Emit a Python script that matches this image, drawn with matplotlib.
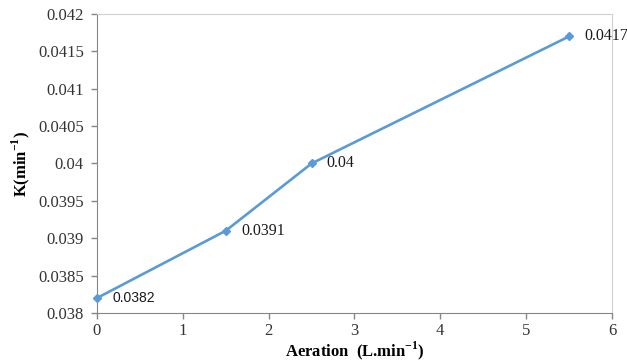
import matplotlib
matplotlib.use("Agg")
import matplotlib.pyplot as plt

# rate constant K against aeration rate
aeration = [0, 1.5, 2.5, 5.5]
k_rate = [0.0382, 0.0391, 0.0400, 0.0417]
point_labels = ["0.0382", "0.0391", "0.04", "0.0417"]
x_ticks = [0, 1, 2, 3, 4, 5, 6]
y_ticks = [0.038, 0.0385, 0.039, 0.0395, 0.04, 0.0405, 0.041, 0.0415, 0.042]
y_tick_labels = ["0.038", "0.0385", "0.039", "0.0395", "0.04", "0.0405", "0.041", "0.0415", "0.042"]

plt.rcParams['font.family'] = ['Liberation Serif', 'DejaVu Serif']
plt.rcParams['mathtext.fontset'] = 'custom'
plt.rcParams['mathtext.rm'] = 'Liberation Serif'
plt.rcParams['mathtext.bf'] = 'Liberation Serif:bold'

fig = plt.figure(figsize=(6.27, 3.62), dpi=100)
ax = fig.add_axes([0.1547, 0.1354, 0.8213, 0.8259])

blue = "#5B9BD5"
ax.plot(aeration, k_rate, color=blue, lw=1.9, marker="D", ms=4.5, clip_on=False, zorder=3)

for x, y, txt in zip(aeration, k_rate, point_labels):
    fam = ['Liberation Sans'] if txt == "0.0382" else ['Liberation Serif']
    size = 10 if txt == "0.0382" else 11.5
    ax.annotate(txt, (x, y), xytext=(11, 0), textcoords="offset points",
                va="center", ha="left", fontsize=size, family=fam, color="#1a1a1a",
                annotation_clip=False)

ax.set_xlim(0, 6)
ax.set_ylim(0.038, 0.042)
ax.set_xticks(x_ticks)
ax.set_xticklabels([str(t) for t in x_ticks])
ax.set_yticks(y_ticks)
ax.set_yticklabels(y_tick_labels)
ax.tick_params(axis="both", labelsize=12, direction="out", length=4.5, width=1,
               color="#868686", labelcolor="#333333")
ax.tick_params(axis="y", pad=5)
ax.tick_params(axis="x", pad=3)

for side in ("left", "bottom"):
    ax.spines[side].set_color("#868686")
for side in ("top", "right"):
    ax.spines[side].set_color("#D0D0D0")

ax.set_xlabel(r"Aeration  (L.min$^{\mathbf{-1}}$)", fontsize=12, fontweight="bold", labelpad=0)
ax.set_ylabel(r"K(min$^{\mathbf{-1}}$)", fontsize=12, fontweight="bold", labelpad=4)

fig.savefig("out.png", dpi=100)
